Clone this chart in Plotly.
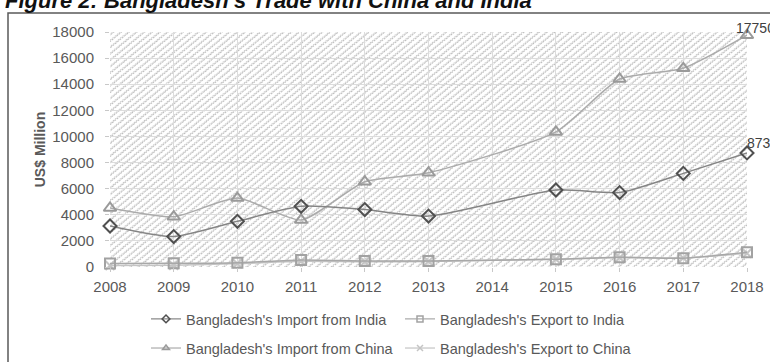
import base64
import plotly.graph_objects as go

# Bangladesh trade with India and China, US$ million (2014 not reported)
years = [2008, 2009, 2010, 2011, 2012, 2013, 2014, 2015, 2016, 2017, 2018]
import_india = [3140, 2330, 3500, 4650, 4400, 3900, None, 5900, 5700, 7170, 8735]
export_india = [260, 280, 330, 540, 460, 460, None, 590, 740, 670, 1125]
import_china = [4520, 3850, 5280, 3600, 6530, 7220, None, 10350, 14400, 15220, 17750]
export_china = [110, 140, 260, 440, 400, 430, None, 600, 720, 690, 1050]

series_names = [
    "Bangladesh's Import from India",
    "Bangladesh's Export to India",
    "Bangladesh's Import from China",
    "Bangladesh's Export to China",
]
y_ticks = [0, 2000, 4000, 6000, 8000, 10000, 12000, 14000, 16000, 18000]
title_text = "Figure 2: Bangladesh's Trade with China and India"
y_title = "US$ Million"

FONT = "Liberation Sans"
TXT = "#595959"

# plot-area texture: fine diagonal zigzag
svg = (
    "<svg xmlns='http://www.w3.org/2000/svg' width='640' height='240'>"
    "<defs><pattern id='p' width='6' height='5' patternUnits='userSpaceOnUse' "
    "patternTransform='rotate(-40)'>"
    "<path d='M0 3 L1.5 1.2 L3 3 L4.5 1.2 L6 3' stroke='#b8b8b8' stroke-width='1' fill='none'/>"
    "</pattern></defs><rect width='100%' height='100%' fill='url(#p)'/></svg>"
)
texture = "data:image/svg+xml;base64," + base64.b64encode(svg.encode()).decode()

fig = go.Figure()

styles = {
    series_names[0]: dict(symbol="diamond-open", size=10, mcolor="#505050", lcolor="#858585", legend="legend"),
    series_names[1]: dict(symbol="square-open", size=10, mcolor="#a2a2a2", lcolor="#a8a8a8", legend="legend"),
    series_names[2]: dict(symbol="triangle-up-open", size=11, mcolor="#9a9a9a", lcolor="#ababab", legend="legend2"),
    series_names[3]: dict(symbol="x-thin-open", size=9, mcolor="#c4c4c4", lcolor="#c4c4c4", legend="legend2"),
}
values = {
    series_names[0]: import_india,
    series_names[1]: export_india,
    series_names[2]: import_china,
    series_names[3]: export_china,
}

# data lines: exports first, imports drawn on top
for name in [series_names[3], series_names[1], series_names[2], series_names[0]]:
    st = styles[name]
    fig.add_trace(go.Scatter(
        x=years, y=values[name], name=name, mode="lines+markers",
        connectgaps=True, cliponaxis=False, showlegend=False,
        line=dict(color=st["lcolor"], width=1.5, shape="spline", smoothing=0.6),
        marker=dict(symbol=st["symbol"], size=st["size"],
                    color=st["mcolor"], line=dict(color=st["mcolor"], width=2)),
    ))

# legend keys with smaller markers
for i, name in enumerate(series_names):
    st = styles[name]
    fig.add_trace(go.Scatter(
        x=[None], y=[None], name=name, mode="lines+markers", legend=st["legend"],
        legendrank=i,
        line=dict(color=st["lcolor"], width=1.2),
        marker=dict(symbol=st["symbol"], size=6,
                    color=st["mcolor"], line=dict(color=st["mcolor"], width=1.5)),
    ))

# value labels on the final year
for vals, xs, ys in [(import_china, -13, 7), (import_india, -2, 10)]:
    fig.add_annotation(
        x=years[-1], y=vals[-1], xref="x", yref="y", text=f"{vals[-1]:.0f}",
        showarrow=False, xanchor="left", yanchor="middle", xshift=xs, yshift=ys,
        font=dict(family=FONT, size=14, color="#404040"),
    )

fig.add_annotation(
    x=-0.168, y=1.132, xref="paper", yref="paper", text="<b><i>" + title_text + "</i></b>",
    showarrow=False, xanchor="left", yanchor="middle",
    font=dict(family=FONT, size=22, color="#111111"),
)

fig.add_layout_image(
    source=texture, xref="paper", yref="paper", x=0, y=1, sizex=1, sizey=1,
    xanchor="left", yanchor="top", sizing="stretch", layer="below",
)

# outer chart border
fig.add_shape(
    type="rect", xref="paper", yref="paper",
    x0=(8 - 110) / 637, x1=(790 - 110) / 637, y0=(267 - 380) / 235, y1=(267 - 13) / 235,
    line=dict(color="#5a5a5a", width=1.5), fillcolor="rgba(0,0,0,0)", layer="below",
)

legend_common = dict(
    orientation="h", xanchor="left", yanchor="top", entrywidth=209,
    font=dict(family=FONT, size=14.5, color=TXT), bgcolor="rgba(0,0,0,0)",
)

fig.update_layout(
    width=770, height=362,
    margin=dict(l=110, r=23, t=32, b=95, autoexpand=False),
    paper_bgcolor="white", plot_bgcolor="white",
    font=dict(family=FONT, size=15, color=TXT),
    xaxis=dict(
        range=[2008, 2018], tickmode="array", tickvals=years, ticktext=[str(y) for y in years],
        showgrid=True, gridcolor="#dcdcdc", gridwidth=1, zeroline=False, showline=False,
        ticks="outside", ticklen=4, tickcolor="#c8c8c8", ticklabelstandoff=2,
        tickfont=dict(family=FONT, size=15, color=TXT),
    ),
    yaxis=dict(
        range=[0, 18000], tickmode="array", tickvals=y_ticks, ticktext=[str(v) for v in y_ticks],
        showgrid=True, gridcolor="#dcdcdc", gridwidth=1,
        zeroline=False, showline=False, ticks="outside", ticklen=4, tickcolor="#c8c8c8",
        ticklabelstandoff=8,
        tickfont=dict(family=FONT, size=15, color=TXT),
        title=dict(text="<b>" + y_title + "</b>", standoff=3,
                   font=dict(family=FONT, size=14, color=TXT)),
    ),
    legend=dict(x=(146 - 110) / 637, y=-0.153, **legend_common),
    legend2=dict(x=(146 - 110) / 637, y=-0.277, **legend_common),
)

fig.write_html("out.html")
